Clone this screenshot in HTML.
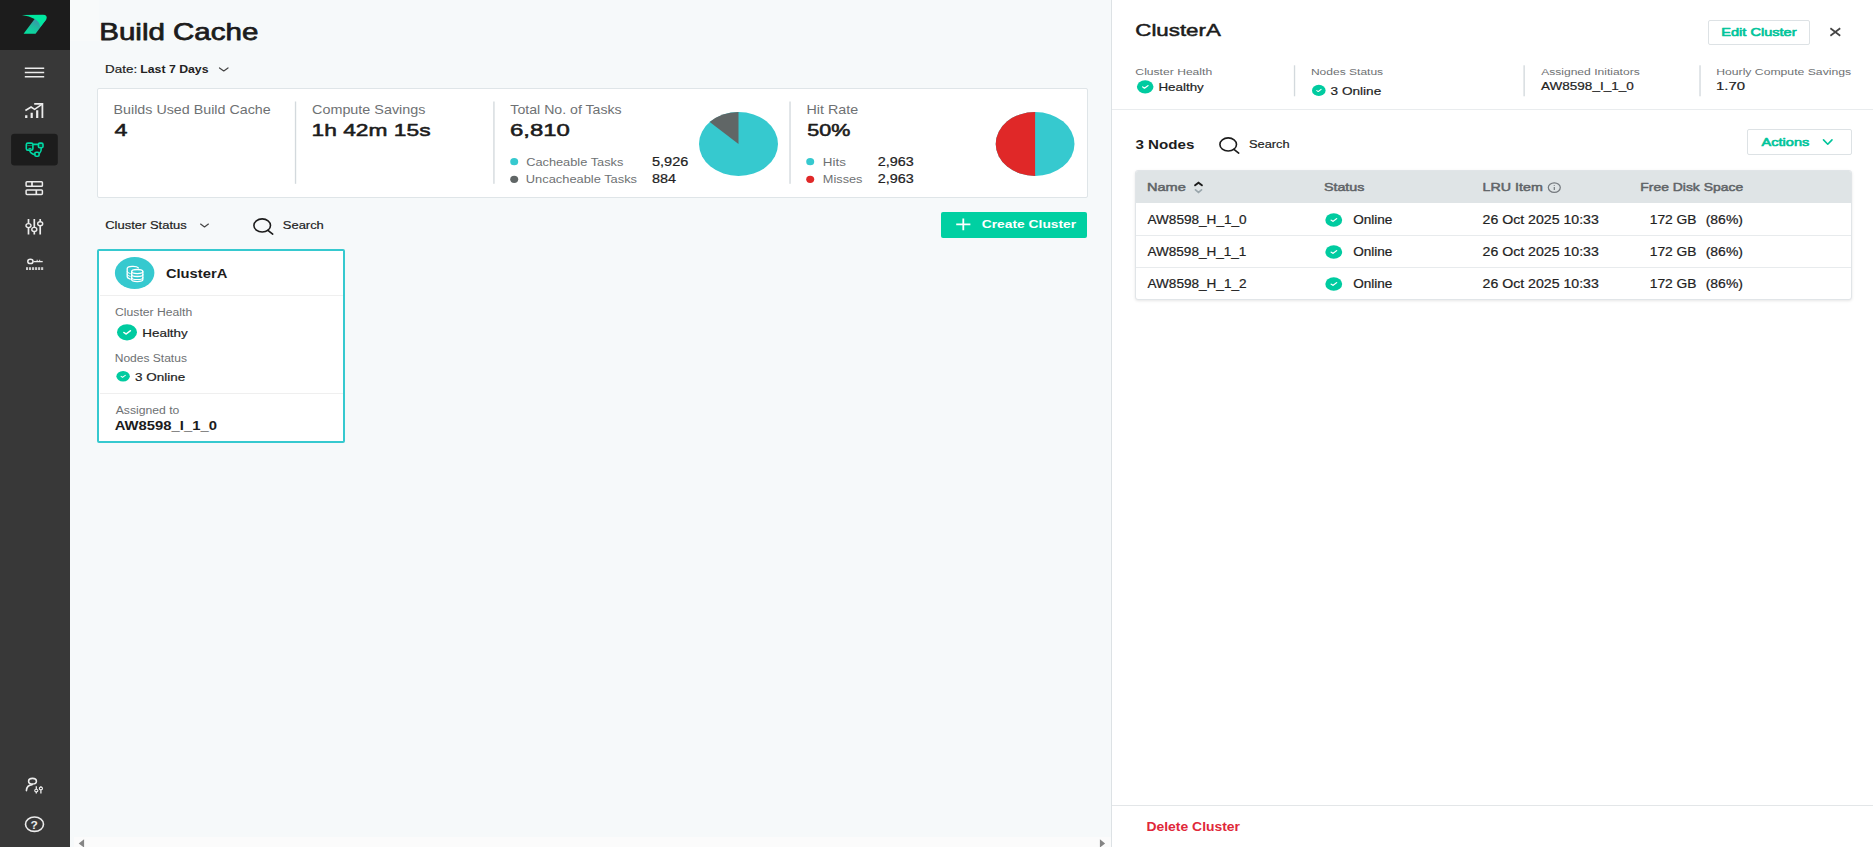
<!DOCTYPE html>
<html lang="en"><head><meta charset="utf-8"><title>Build Cache</title>
<style>
*{box-sizing:border-box}
html,body{margin:0;padding:0}
body{width:1873px;height:847px;overflow:hidden;position:relative;background:#f6f9fa;font-family:"Liberation Sans",sans-serif;color:#222}
.abs{position:absolute}
#sidebar{left:0;top:0;width:70px;height:847px;background:#383838}
#logo{left:0;top:0;width:70px;height:50px;background:#1c1c1c}
#stats{left:97px;top:88px;width:990.5px;height:110px;background:#fff;border:1px solid #dfe5e8;border-radius:2px}
.vd{width:1px;background:#d9dfe3}
#create{left:941px;top:212px;width:146px;height:26px;background:#00d0a2;border-radius:2px}
#card{left:97px;top:249px;width:248px;height:194px;background:#fff;border:2px solid #36c9cf;border-radius:2px}
.hd{height:1px;background:#efefef}
#panel{left:1111px;top:0;width:762px;height:847px;background:#fff;border-left:1px solid #dde2e5}
.btn{background:#fff;border:1px solid #dde2e5;border-radius:2px}
#table{left:1135px;top:170px;width:717px;height:130px;background:#fff;border:1px solid #e1e5e8;border-radius:3px;box-shadow:0 1px 3px rgba(0,0,0,.10);overflow:hidden}
#thead{left:0;top:0;width:100%;height:32px;background:#dfe4e6}
.rowline{left:0;width:100%;height:1px;background:#e8ebed}
#hscroll{left:74px;top:837px;width:1037px;height:10px;background:#fbfbfb}
#tl{left:70px;top:0;width:29px;height:41px;background:#f8fafa}
svg{position:absolute;left:0;top:0;overflow:visible}
text{font-family:"Liberation Sans",sans-serif;white-space:pre}
</style></head>
<body>
<div id="sidebar" class="abs"><div id="logo" class="abs"></div></div>
<div id="stats" class="abs"></div>
<div id="create" class="abs"></div>
<div id="card" class="abs"></div>
<div class="abs hd" style="left:99.5px;top:295.3px;width:243px"></div>
<div class="abs hd" style="left:99.5px;top:393px;width:243px"></div>
<div id="hscroll" class="abs"></div><div id="tl" class="abs"></div>
<div id="panel" class="abs"></div>
<div class="abs hd" style="left:1112px;top:109.4px;width:761px;background:#e9ecee"></div>
<div class="abs hd" style="left:1112px;top:805px;width:761px;background:#e3e6e8"></div>
<div class="abs btn" style="left:1708px;top:19.5px;width:102px;height:25.5px"></div>
<div class="abs btn" style="left:1747px;top:129px;width:104.5px;height:26px"></div>
<div id="table" class="abs"><div id="thead" class="abs"></div>
<div class="abs rowline" style="top:64px"></div><div class="abs rowline" style="top:96px"></div></div>
<svg width="1873" height="847" viewBox="0 0 1873 847">
<g id="dividers"><rect x="294.85" y="101.5" width="1.35" height="82.3" fill="#d3d9dd"/><rect x="493.25" y="101.5" width="1.35" height="82.3" fill="#d3d9dd"/><rect x="789.35" y="101.5" width="1.35" height="82.3" fill="#d3d9dd"/><rect x="1293.85" y="65.3" width="1.35" height="31" fill="#d3d9dd"/><rect x="1523.45" y="65.3" width="1.35" height="31" fill="#d3d9dd"/><rect x="1699.35" y="65.3" width="1.35" height="31" fill="#d3d9dd"/></g>
<path d="M78.7,843.4 L84.1,839.2 V847.6 Z M1105.1,843.4 L1099.9,839.2 V847.6 Z" fill="#858585"/>
<defs><linearGradient id="lg" x1="0" y1="1" x2="0.75" y2="0"><stop offset="0" stop-color="#00e89e"/><stop offset="0.55" stop-color="#20b9a0"/><stop offset="1" stop-color="#4786ad"/></linearGradient></defs>
<path d="M23.6,33.7 L35.6,33.7 L46.2,19.6 L34.6,19.0 Z" fill="url(#lg)"/>
<path d="M21.9,15.1 L43,14.7 Q47.9,14.9 46.4,19.2 L40.3,27 Q39.6,21.6 34.6,19.1 Q29.5,16 21.9,15.1 Z" fill="#00e8a0"/>
<path d="M24.8,68.3 H44.2 M24.8,72.5 H44.2 M24.8,76.7 H44.2" stroke="#ececec" stroke-width="1.4"/>
<g fill="none" stroke="#ececec" stroke-width="1.6" stroke-linejoin="miter">
<path d="M25.4,110.5 L31.1,107 L34.6,109.3 L42.2,104.2"/>
<path d="M34.2,103.9 H42.4 V118.1" stroke-width="1.8"/>
</g>
<path d="M25.1,115.2 h2.3 V118.1 h-2.3z M30.6,112.7 h2.2 V118.1 h-2.2z M36.1,110.3 h2.2 V118.1 h-2.2z" fill="#ececec"/>
<rect x="11.1" y="133.8" width="46.7" height="31.6" rx="3.6" ry="3" fill="#1c1c1c"/>
<g fill="none" stroke="#00d9a5" stroke-width="1.6" stroke-linejoin="round" stroke-linecap="round">
<rect x="26.3" y="143.1" width="6.6" height="7" rx="1.6" ry="1.4"/>
<rect x="38.4" y="143.1" width="4.6" height="4.6" rx="1.5" ry="1.3" fill="rgba(0,217,165,.22)"/>
<rect x="34.9" y="152.2" width="4.2" height="4" rx="1.3" ry="1.1"/>
<path d="M33.6,144.4 H37.6 M41.2,148.4 Q41.4,151.6 39.8,152.8 M29.8,150.8 Q30.6,153.8 34.6,154.6"/>
<path d="M28.9,148.4 H31" stroke-width="1"/><path d="M27.8,145.5 H31.6" stroke-width="0.9" opacity=".55"/>
</g>
<g fill="none" stroke="#ececec" stroke-width="1.5">
<rect x="26.1" y="181.8" width="16.3" height="4.4" rx="0.9" ry="0.8"/>
<rect x="26.1" y="190" width="16.3" height="4.4" rx="0.9" ry="0.8"/>
<path d="M32,181.8 V186.2 M36.3,190 V194.4" stroke-width="1.7"/>
</g>
<path d="M28.5,218.9 V223.6 M28.5,227.6 V234.5" stroke="#ececec" stroke-width="1.7" fill="none"/><ellipse cx="28.5" cy="225.6" rx="2.5" ry="2.0" fill="none" stroke="#ececec" stroke-width="1.4"/><path d="M34.3,218.9 V227.4 M34.3,231.4 V234.5" stroke="#ececec" stroke-width="1.7" fill="none"/><ellipse cx="34.3" cy="229.4" rx="2.5" ry="2.0" fill="none" stroke="#ececec" stroke-width="1.4"/><path d="M40.2,218.9 V221.7 M40.2,225.7 V234.5" stroke="#ececec" stroke-width="1.7" fill="none"/><ellipse cx="40.2" cy="223.7" rx="2.5" ry="2.0" fill="none" stroke="#ececec" stroke-width="1.4"/>
<ellipse cx="30.4" cy="261.4" rx="2.6" ry="2.1" fill="none" stroke="#ececec" stroke-width="1.5"/>
<path d="M33.4,261.6 H42.7" stroke="#ececec" stroke-width="1.3"/>
<path d="M37.2,261.6 V259.8 M39.6,261.6 V259.8" stroke="#ececec" stroke-width="1.2" opacity=".8"/>
<rect x="26.00" y="267.2" width="2.1" height="2.8" fill="#cfcfcf"/>
<rect x="29.02" y="267.2" width="2.1" height="2.8" fill="#cfcfcf"/>
<rect x="32.04" y="267.2" width="2.1" height="2.8" fill="#cfcfcf"/>
<rect x="35.06" y="267.2" width="2.1" height="2.8" fill="#cfcfcf"/>
<rect x="38.08" y="267.2" width="2.1" height="2.8" fill="#cfcfcf"/>
<rect x="41.10" y="267.2" width="2.1" height="2.8" fill="#cfcfcf"/>
<g fill="none" stroke="#ececec" stroke-width="1.6" stroke-linecap="round">
<ellipse cx="32.5" cy="781.2" rx="3.9" ry="2.8"/>
<path d="M32.2,784.6 Q26.6,785.2 26.4,790.6"/>
</g>
<path d="M36.3,786.3 V789.3000000000001 M36.3,791.9 V793.4" stroke="#ececec" stroke-width="1.3" fill="none"/><ellipse cx="36.3" cy="790.6" rx="1.6" ry="1.3" fill="none" stroke="#ececec" stroke-width="1.1"/><path d="M40.9,786.3 V787.1 M40.9,789.6999999999999 V793.4" stroke="#ececec" stroke-width="1.3" fill="none"/><ellipse cx="40.9" cy="788.4" rx="1.6" ry="1.3" fill="none" stroke="#ececec" stroke-width="1.1"/>
<ellipse cx="34.5" cy="824.2" rx="9.0" ry="7.15" fill="none" stroke="#ececec" stroke-width="1.6"/>
<g transform="translate(127.00,332.30) scale(10.000,8.100)"><circle r="1" fill="#00cba0"/><path d="M-0.31,0.02 L-0.09,0.22 L0.34,-0.19" fill="none" stroke="#fff" stroke-width="0.16" stroke-linecap="round" stroke-linejoin="round"/></g>
<g transform="translate(123.10,376.20) scale(6.700,5.300)"><circle r="1" fill="#00cba0"/><path d="M-0.31,0.02 L-0.09,0.22 L0.34,-0.19" fill="none" stroke="#fff" stroke-width="0.16" stroke-linecap="round" stroke-linejoin="round"/></g>
<g transform="translate(1145.20,86.80) scale(8.300,6.600)"><circle r="1" fill="#00cba0"/><path d="M-0.31,0.02 L-0.09,0.22 L0.34,-0.19" fill="none" stroke="#fff" stroke-width="0.16" stroke-linecap="round" stroke-linejoin="round"/></g>
<g transform="translate(1318.80,90.40) scale(6.800,5.600)"><circle r="1" fill="#00cba0"/><path d="M-0.31,0.02 L-0.09,0.22 L0.34,-0.19" fill="none" stroke="#fff" stroke-width="0.16" stroke-linecap="round" stroke-linejoin="round"/></g>
<g transform="translate(1333.75,219.90) scale(8.450,6.750)"><circle r="1" fill="#00cba0"/><path d="M-0.31,0.02 L-0.09,0.22 L0.34,-0.19" fill="none" stroke="#fff" stroke-width="0.16" stroke-linecap="round" stroke-linejoin="round"/></g>
<g transform="translate(1333.75,251.90) scale(8.450,6.750)"><circle r="1" fill="#00cba0"/><path d="M-0.31,0.02 L-0.09,0.22 L0.34,-0.19" fill="none" stroke="#fff" stroke-width="0.16" stroke-linecap="round" stroke-linejoin="round"/></g>
<g transform="translate(1333.75,283.90) scale(8.450,6.750)"><circle r="1" fill="#00cba0"/><path d="M-0.31,0.02 L-0.09,0.22 L0.34,-0.19" fill="none" stroke="#fff" stroke-width="0.16" stroke-linecap="round" stroke-linejoin="round"/></g>
<ellipse cx="262.20" cy="225.45" rx="8.3" ry="6.6" fill="none" stroke="#1c1c1c" stroke-width="1.6"/><path d="M267.90,230.35 L272.70,234.05" stroke="#1c1c1c" stroke-width="1.7" stroke-linecap="round"/>
<ellipse cx="1228.20" cy="144.45" rx="8.3" ry="6.6" fill="none" stroke="#1c1c1c" stroke-width="1.6"/><path d="M1233.90,149.35 L1238.70,153.05" stroke="#1c1c1c" stroke-width="1.7" stroke-linecap="round"/>
<path d="M219.50,67.90 L223.75,71.00 L228.00,67.90" fill="none" stroke="#444" stroke-width="1.2" stroke-linecap="round" stroke-linejoin="round"/>
<path d="M200.60,224.10 L204.50,227.00 L208.40,224.10" fill="none" stroke="#444" stroke-width="1.2" stroke-linecap="round" stroke-linejoin="round"/>
<path d="M1823.50,139.90 L1827.75,144.20 L1832.00,139.90" fill="none" stroke="#00c49a" stroke-width="1.6" stroke-linecap="round" stroke-linejoin="round"/>
<path d="M1195.1,185.3 L1198.5,182.7 L1201.9,185.3" fill="none" stroke="#1c1c1c" stroke-width="1.9" stroke-linecap="round" stroke-linejoin="miter"/>
<path d="M1195.5,189.9 L1198.5,192.3 L1201.5,189.9" fill="none" stroke="#9aa6ac" stroke-width="1.7" stroke-linecap="round" stroke-linejoin="miter"/>
<ellipse cx="1554.3" cy="187.6" rx="6.0" ry="4.75" fill="none" stroke="#757a7f" stroke-width="1.25"/>
<path d="M1554.3,187.1 V190.0 M1554.3,185.2 V186.0" stroke="#757a7f" stroke-width="1.2"/>
<path d="M1830.4,28.3 L1840.2,35.8 M1840.2,28.3 L1830.4,35.8" stroke="#444" stroke-width="1.7" stroke-linecap="butt"/>
<path d="M956.2,224.3 H970.4 M963.3,218.4 V230.3" stroke="#fff" stroke-width="1.8"/>
<ellipse cx="514.2" cy="161.7" rx="4" ry="3.6" fill="#36c9cf"/>
<ellipse cx="514.2" cy="179.3" rx="4" ry="3.6" fill="#606666"/>
<ellipse cx="810.2" cy="161.7" rx="4" ry="3.6" fill="#36c9cf"/>
<ellipse cx="810.2" cy="179.3" rx="4" ry="3.6" fill="#e02828"/>
<ellipse cx="738.5" cy="143.95" rx="39.5" ry="32.0" fill="#36c9cf"/>
<path d="M738.5,143.95 L738.5,111.94999999999999 A39.5,32.0 0 0 0 709.74,122.02 Z" fill="#606666"/>
<ellipse cx="1035.1" cy="143.95" rx="39.4" ry="32.0" fill="#36c9cf"/>
<path d="M1035.1,143.95 L1035.1,111.94999999999999 A39.4,32.0 0 0 0 1035.10,175.95 Z" fill="#e02828"/>
<ellipse cx="134.65" cy="272.95" rx="19.75" ry="16" fill="#36c9cf"/>
<g fill="none" stroke="#fff" stroke-width="1.3" stroke-linecap="round" stroke-linejoin="round">
<ellipse cx="137.25" cy="271.6" rx="5.6" ry="2.1"/>
<path d="M131.65,271.6 V279.6 C131.65,282.4 142.85,282.4 142.85,279.6 V271.6"/>
<path d="M131.65,274.4 C131.65,277.2 142.85,277.2 142.85,274.4"/>
<path d="M131.65,277.4 C131.65,280.2 142.85,280.2 142.85,277.4" stroke-width="1.1"/>
<path d="M138.4,267.9 C136.5,265.6 127.2,265.9 127.2,268.6 V276.6 C127.2,277.9 128.6,278.7 130.2,279.1"/>
<path d="M127.2,271.4 C127.2,272.5 128.6,273.2 130.2,273.5 M127.2,274.2 C127.2,275.3 128.6,276 130.2,276.3" stroke-width="1"/>
</g>
<text x="99.26" y="40.0" textLength="159.08" lengthAdjust="spacingAndGlyphs" font-size="24" font-weight="400" fill="#1c1c1c" stroke="#1c1c1c" stroke-width="0.75" stroke-linejoin="round">Build Cache</text>
<text x="105.10" y="72.8" textLength="32.02" lengthAdjust="spacingAndGlyphs" font-size="11.6" font-weight="400" fill="#222" stroke="#222" stroke-width="0.2" stroke-linejoin="round">Date:</text>
<text x="140.28" y="72.8" textLength="68.23" lengthAdjust="spacingAndGlyphs" font-size="11.6" font-weight="700" fill="#222">Last 7 Days</text>
<text x="113.53" y="113.5" textLength="157.21" lengthAdjust="spacingAndGlyphs" font-size="12.6" font-weight="400" fill="#6e7173">Builds Used Build Cache</text>
<text x="114.64" y="135.8" textLength="12.97" lengthAdjust="spacingAndGlyphs" font-size="17.3" font-weight="400" fill="#1c1c1c" stroke="#1c1c1c" stroke-width="0.55" stroke-linejoin="round">4</text>
<text x="312.07" y="113.5" textLength="113.35" lengthAdjust="spacingAndGlyphs" font-size="12.6" font-weight="400" fill="#6e7173">Compute Savings</text>
<text x="311.54" y="135.8" textLength="119.01" lengthAdjust="spacingAndGlyphs" font-size="17.3" font-weight="400" fill="#1c1c1c" stroke="#1c1c1c" stroke-width="0.55" stroke-linejoin="round">1h 42m 15s</text>
<text x="510.38" y="113.5" textLength="111.23" lengthAdjust="spacingAndGlyphs" font-size="12.6" font-weight="400" fill="#6e7173">Total No. of Tasks</text>
<text x="509.96" y="135.7" textLength="59.80" lengthAdjust="spacingAndGlyphs" font-size="17.3" font-weight="400" fill="#1c1c1c" stroke="#1c1c1c" stroke-width="0.55" stroke-linejoin="round">6,810</text>
<text x="526.15" y="165.6" textLength="97.21" lengthAdjust="spacingAndGlyphs" font-size="11.6" font-weight="400" fill="#6e7173">Cacheable Tasks</text>
<text x="652.02" y="165.6" textLength="36.32" lengthAdjust="spacingAndGlyphs" font-size="11.9" font-weight="400" fill="#222" stroke="#222" stroke-width="0.2" stroke-linejoin="round">5,926</text>
<text x="525.81" y="183.0" textLength="111.26" lengthAdjust="spacingAndGlyphs" font-size="11.6" font-weight="400" fill="#6e7173">Uncacheable Tasks</text>
<text x="651.97" y="183.0" textLength="24.05" lengthAdjust="spacingAndGlyphs" font-size="11.9" font-weight="400" fill="#222" stroke="#222" stroke-width="0.2" stroke-linejoin="round">884</text>
<text x="806.53" y="113.5" textLength="51.61" lengthAdjust="spacingAndGlyphs" font-size="12.6" font-weight="400" fill="#6e7173">Hit Rate</text>
<text x="807.31" y="135.7" textLength="43.08" lengthAdjust="spacingAndGlyphs" font-size="17.3" font-weight="400" fill="#1c1c1c" stroke="#1c1c1c" stroke-width="0.55" stroke-linejoin="round">50%</text>
<text x="822.80" y="165.6" textLength="23.08" lengthAdjust="spacingAndGlyphs" font-size="11.6" font-weight="400" fill="#6e7173">Hits</text>
<text x="877.88" y="165.6" textLength="35.95" lengthAdjust="spacingAndGlyphs" font-size="11.9" font-weight="400" fill="#222" stroke="#222" stroke-width="0.2" stroke-linejoin="round">2,963</text>
<text x="822.86" y="183.0" textLength="39.60" lengthAdjust="spacingAndGlyphs" font-size="11.6" font-weight="400" fill="#6e7173">Misses</text>
<text x="877.88" y="183.0" textLength="35.95" lengthAdjust="spacingAndGlyphs" font-size="11.9" font-weight="400" fill="#222" stroke="#222" stroke-width="0.2" stroke-linejoin="round">2,963</text>
<text x="105.24" y="229.3" textLength="81.53" lengthAdjust="spacingAndGlyphs" font-size="11.8" font-weight="400" fill="#222" stroke="#222" stroke-width="0.2" stroke-linejoin="round">Cluster Status</text>
<text x="282.81" y="229.3" textLength="41.03" lengthAdjust="spacingAndGlyphs" font-size="11.8" font-weight="400" fill="#222" stroke="#222" stroke-width="0.2" stroke-linejoin="round">Search</text>
<text x="981.73" y="228.4" textLength="94.48" lengthAdjust="spacingAndGlyphs" font-size="11.5" font-weight="700" fill="#fff">Create Cluster</text>
<text x="165.90" y="277.8" textLength="61.39" lengthAdjust="spacingAndGlyphs" font-size="13.2" font-weight="700" fill="#1c1c1c">ClusterA</text>
<text x="115.08" y="316.0" textLength="77.11" lengthAdjust="spacingAndGlyphs" font-size="10.0" font-weight="400" fill="#6e7173">Cluster Health</text>
<text x="142.30" y="337.0" textLength="45.43" lengthAdjust="spacingAndGlyphs" font-size="11.8" font-weight="400" fill="#222" stroke="#222" stroke-width="0.2" stroke-linejoin="round">Healthy</text>
<text x="114.71" y="361.7" textLength="72.22" lengthAdjust="spacingAndGlyphs" font-size="10.0" font-weight="400" fill="#6e7173">Nodes Status</text>
<text x="135.09" y="380.6" textLength="50.11" lengthAdjust="spacingAndGlyphs" font-size="11.6" font-weight="400" fill="#222" stroke="#222" stroke-width="0.2" stroke-linejoin="round">3 Online</text>
<text x="115.68" y="413.9" textLength="63.64" lengthAdjust="spacingAndGlyphs" font-size="10.0" font-weight="400" fill="#6e7173">Assigned to</text>
<text x="114.73" y="429.5" textLength="102.18" lengthAdjust="spacingAndGlyphs" font-size="12.4" font-weight="700" fill="#1c1c1c">AW8598_I_1_0</text>
<text x="1135.32" y="36.3" textLength="85.48" lengthAdjust="spacingAndGlyphs" font-size="17.0" font-weight="400" fill="#1c1c1c" stroke="#1c1c1c" stroke-width="0.5" stroke-linejoin="round">ClusterA</text>
<text x="1721.33" y="36.4" textLength="75.19" lengthAdjust="spacingAndGlyphs" font-size="11.6" font-weight="400" fill="#00c49a" stroke="#00c49a" stroke-width="0.65" stroke-linejoin="round">Edit Cluster</text>
<text x="1135.38" y="75.0" textLength="76.80" lengthAdjust="spacingAndGlyphs" font-size="9.7" font-weight="400" fill="#6e7173">Cluster Health</text>
<text x="1158.40" y="91.1" textLength="45.43" lengthAdjust="spacingAndGlyphs" font-size="11.6" font-weight="400" fill="#222" stroke="#222" stroke-width="0.2" stroke-linejoin="round">Healthy</text>
<text x="1310.91" y="75.0" textLength="72.22" lengthAdjust="spacingAndGlyphs" font-size="9.7" font-weight="400" fill="#6e7173">Nodes Status</text>
<text x="1330.58" y="95.2" textLength="50.62" lengthAdjust="spacingAndGlyphs" font-size="11.6" font-weight="400" fill="#222" stroke="#222" stroke-width="0.2" stroke-linejoin="round">3 Online</text>
<text x="1541.18" y="75.0" textLength="98.56" lengthAdjust="spacingAndGlyphs" font-size="9.7" font-weight="400" fill="#6e7173">Assigned Initiators</text>
<text x="1541.07" y="90.0" textLength="92.65" lengthAdjust="spacingAndGlyphs" font-size="11.6" font-weight="400" fill="#222" stroke="#222" stroke-width="0.2" stroke-linejoin="round">AW8598_I_1_0</text>
<text x="1716.20" y="75.0" textLength="134.94" lengthAdjust="spacingAndGlyphs" font-size="9.7" font-weight="400" fill="#6e7173">Hourly Compute Savings</text>
<text x="1715.96" y="90.0" textLength="29.02" lengthAdjust="spacingAndGlyphs" font-size="11.6" font-weight="400" fill="#222" stroke="#222" stroke-width="0.2" stroke-linejoin="round">1.70</text>
<text x="1135.45" y="148.9" textLength="58.87" lengthAdjust="spacingAndGlyphs" font-size="12.6" font-weight="700" fill="#1c1c1c">3 Nodes</text>
<text x="1249.02" y="148.1" textLength="40.62" lengthAdjust="spacingAndGlyphs" font-size="11.6" font-weight="400" fill="#222" stroke="#222" stroke-width="0.2" stroke-linejoin="round">Search</text>
<text x="1761.60" y="146.1" textLength="47.70" lengthAdjust="spacingAndGlyphs" font-size="11.6" font-weight="400" fill="#00c49a" stroke="#00c49a" stroke-width="0.65" stroke-linejoin="round">Actions</text>
<text x="1146.96" y="191.2" textLength="38.84" lengthAdjust="spacingAndGlyphs" font-size="11.8" font-weight="400" fill="#5f6468" stroke="#5f6468" stroke-width="0.5" stroke-linejoin="round">Name</text>
<text x="1323.90" y="191.2" textLength="40.57" lengthAdjust="spacingAndGlyphs" font-size="11.8" font-weight="400" fill="#5f6468" stroke="#5f6468" stroke-width="0.5" stroke-linejoin="round">Status</text>
<text x="1482.58" y="191.2" textLength="60.21" lengthAdjust="spacingAndGlyphs" font-size="11.8" font-weight="400" fill="#5f6468" stroke="#5f6468" stroke-width="0.5" stroke-linejoin="round">LRU Item</text>
<text x="1640.31" y="191.2" textLength="102.86" lengthAdjust="spacingAndGlyphs" font-size="11.8" font-weight="400" fill="#5f6468" stroke="#5f6468" stroke-width="0.5" stroke-linejoin="round">Free Disk Space</text>
<text x="1147.47" y="224.0" textLength="99.16" lengthAdjust="spacingAndGlyphs" font-size="12.0" font-weight="400" fill="#222" stroke="#222" stroke-width="0.2" stroke-linejoin="round">AW8598_H_1_0</text>
<text x="1353.16" y="224.0" textLength="39.25" lengthAdjust="spacingAndGlyphs" font-size="12.0" font-weight="400" fill="#222" stroke="#222" stroke-width="0.2" stroke-linejoin="round">Online</text>
<text x="1482.59" y="224.0" textLength="116.23" lengthAdjust="spacingAndGlyphs" font-size="12.0" font-weight="400" fill="#222" stroke="#222" stroke-width="0.2" stroke-linejoin="round">26 Oct 2025 10:33</text>
<text x="1649.75" y="224.0" textLength="46.78" lengthAdjust="spacingAndGlyphs" font-size="12.0" font-weight="400" fill="#222" stroke="#222" stroke-width="0.2" stroke-linejoin="round">172 GB</text>
<text x="1705.73" y="224.0" textLength="37.23" lengthAdjust="spacingAndGlyphs" font-size="12.0" font-weight="400" fill="#222" stroke="#222" stroke-width="0.2" stroke-linejoin="round">(86%)</text>
<text x="1147.47" y="256.0" textLength="98.89" lengthAdjust="spacingAndGlyphs" font-size="12.0" font-weight="400" fill="#222" stroke="#222" stroke-width="0.2" stroke-linejoin="round">AW8598_H_1_1</text>
<text x="1353.16" y="256.0" textLength="39.25" lengthAdjust="spacingAndGlyphs" font-size="12.0" font-weight="400" fill="#222" stroke="#222" stroke-width="0.2" stroke-linejoin="round">Online</text>
<text x="1482.59" y="256.0" textLength="116.23" lengthAdjust="spacingAndGlyphs" font-size="12.0" font-weight="400" fill="#222" stroke="#222" stroke-width="0.2" stroke-linejoin="round">26 Oct 2025 10:33</text>
<text x="1649.75" y="256.0" textLength="46.78" lengthAdjust="spacingAndGlyphs" font-size="12.0" font-weight="400" fill="#222" stroke="#222" stroke-width="0.2" stroke-linejoin="round">172 GB</text>
<text x="1705.73" y="256.0" textLength="37.23" lengthAdjust="spacingAndGlyphs" font-size="12.0" font-weight="400" fill="#222" stroke="#222" stroke-width="0.2" stroke-linejoin="round">(86%)</text>
<text x="1147.47" y="288.0" textLength="99.11" lengthAdjust="spacingAndGlyphs" font-size="12.0" font-weight="400" fill="#222" stroke="#222" stroke-width="0.2" stroke-linejoin="round">AW8598_H_1_2</text>
<text x="1353.16" y="288.0" textLength="39.25" lengthAdjust="spacingAndGlyphs" font-size="12.0" font-weight="400" fill="#222" stroke="#222" stroke-width="0.2" stroke-linejoin="round">Online</text>
<text x="1482.59" y="288.0" textLength="116.23" lengthAdjust="spacingAndGlyphs" font-size="12.0" font-weight="400" fill="#222" stroke="#222" stroke-width="0.2" stroke-linejoin="round">26 Oct 2025 10:33</text>
<text x="1649.75" y="288.0" textLength="46.78" lengthAdjust="spacingAndGlyphs" font-size="12.0" font-weight="400" fill="#222" stroke="#222" stroke-width="0.2" stroke-linejoin="round">172 GB</text>
<text x="1705.73" y="288.0" textLength="37.23" lengthAdjust="spacingAndGlyphs" font-size="12.0" font-weight="400" fill="#222" stroke="#222" stroke-width="0.2" stroke-linejoin="round">(86%)</text>
<text x="1146.47" y="830.9" textLength="93.54" lengthAdjust="spacingAndGlyphs" font-size="12.4" font-weight="700" fill="#e0283a">Delete Cluster</text>
<text x="30.55" y="828.7" textLength="7.34" lengthAdjust="spacingAndGlyphs" font-size="11.5" font-weight="700" fill="#ececec">?</text>
</svg>
</body></html>
